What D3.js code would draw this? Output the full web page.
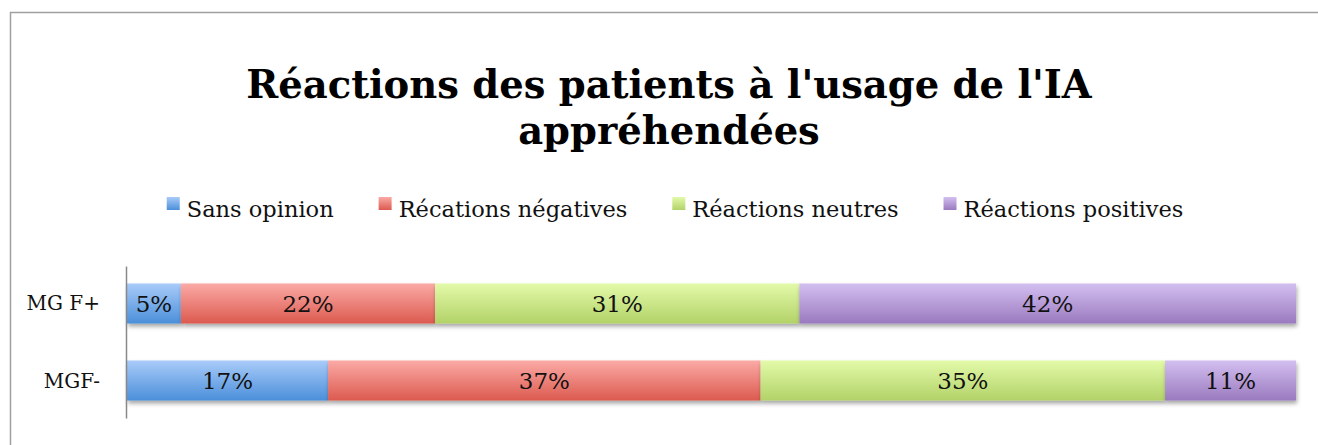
<!DOCTYPE html>
<html>
<head>
<meta charset="utf-8">
<title>Réactions des patients</title>
<script src="https://cdn.jsdelivr.net/npm/d3@7"></script>
<style>
body { margin: 0; background: #fff; }
svg text { font-family: "DejaVu Serif", serif; fill: #111; }
</style>
</head>
<body>
<script>
// data
var categories = ["MG F+", "MGF-"];
var seriesNames = ["Sans opinion", "Récations négatives", "Réactions neutres", "Réactions positives"];
var sansOpinion = [4.6, 17.2];
var negatives   = [21.7, 37.0];
var neutres     = [31.1, 34.6];
var positives   = [42.4, 11.2];
var titleLines = ["Réactions des patients à l'usage de l'IA", "appréhendées"];

var colors = [
  ["#a9cbf9", "#4b8fda"],
  ["#fbaaa6", "#dc5a4f"],
  ["#e3faa9", "#b2d268"],
  ["#d3bff0", "#9a7abf"]
];

var width = 1318, height = 445;
var svg = d3.select("body").append("svg")
  .attr("width", width).attr("height", height);

var defs = svg.append("defs");
colors.forEach(function(c, i){
  var g = defs.append("linearGradient").attr("id", "grad" + i)
    .attr("x1", 0).attr("y1", 0).attr("x2", 0).attr("y2", 1);
  g.append("stop").attr("offset", "0%").attr("stop-color", c[0]);
  g.append("stop").attr("offset", "100%").attr("stop-color", c[1]);
});
var f = defs.append("filter").attr("id", "shadow")
  .attr("x", "-5%").attr("y", "-20%").attr("width", "110%").attr("height", "160%");
f.append("feDropShadow").attr("dx", 1).attr("dy", 3).attr("stdDeviation", 2)
  .attr("flood-color", "#000").attr("flood-opacity", 0.35);

// chart frame
svg.append("rect")
  .attr("x", 10.5).attr("y", 12.5)
  .attr("width", width + 20).attr("height", height + 20)
  .attr("fill", "none").attr("stroke", "#a0a0a0").attr("stroke-width", 1.5);

// title
svg.append("g").selectAll("text")
  .data(titleLines).enter().append("text")
  .attr("x", 669).attr("y", function(d, i){ return 98 + i * 46; })
  .attr("text-anchor", "middle")
  .style("font-size", "38.5px").style("font-weight", "bold")
  .style("fill", "#000")
  .text(function(d){ return d; });

// stacked data, each row normalised to 100%
var rows = categories.map(function(c, i){
  return { cat: c, s0: sansOpinion[i], s1: negatives[i], s2: neutres[i], s3: positives[i] };
});
var keys = ["s0", "s1", "s2", "s3"];
var stacked = d3.stack().keys(keys).offset(d3.stackOffsetExpand)(rows);

var x = d3.scaleLinear().domain([0, 1]).range([127, 1296]);
var y = d3.scaleBand().domain(categories).range([266, 418])
  .paddingInner(0.48).paddingOuter(0.227);

var layer = svg.append("g").selectAll("g.layer")
  .data(stacked).enter().append("g")
  .attr("class", "layer");

layer.selectAll("rect")
  .data(function(d){ return d.map(function(p){ return { p: p, k: d.index }; }); })
  .enter().append("rect")
  .attr("x", function(d){ return x(d.p[0]); })
  .attr("y", function(d){ return y(d.p.data.cat); })
  .attr("width", function(d){ return x(d.p[1]) - x(d.p[0]); })
  .attr("height", y.bandwidth())
  .attr("fill", function(d){ return "url(#grad" + d.k + ")"; })
  .attr("filter", "url(#shadow)");

var pct = d3.format(".0%");
layer.selectAll("text")
  .data(function(d){ return d; })
  .enter().append("text")
  .attr("x", function(d){ return (x(d[0]) + x(d[1])) / 2; })
  .attr("y", function(d){ return y(d.data.cat) + y.bandwidth() / 2 + 8.5; })
  .attr("text-anchor", "middle")
  .style("font-size", "23px")
  .text(function(d){ return pct(d[1] - d[0]); });

// vertical axis
var yAxis = svg.append("g").attr("transform", "translate(126,0)")
  .call(d3.axisLeft(y).tickSize(0).tickPadding(26));
yAxis.select(".domain").attr("stroke", "#888").attr("stroke-width", 1.5);
yAxis.selectAll(".tick text")
  .style("font-size", "20px").style("font-family", "DejaVu Serif, serif")
  .attr("fill", "#111").attr("dy", "0.35em");

// legend
var legend = svg.append("g").attr("class", "legend");
var items = legend.selectAll("g").data(seriesNames).enter().append("g");
items.append("rect")
  .attr("y", 197).attr("width", 13).attr("height", 13)
  .attr("fill", function(d, i){ return "url(#grad" + i + ")"; });
items.append("text")
  .attr("x", 20).attr("y", 217)
  .style("font-size", "22.5px")
  .text(function(d){ return d; });
var pos = 0, offs = [];
items.each(function(){
  offs.push(pos);
  pos += 20 + d3.select(this).select("text").node().getComputedTextLength() + 45;
});
var totalW = pos - 45;
items.attr("transform", function(d, i){ return "translate(" + (675 - totalW / 2 + offs[i]) + ",0)"; });
</script>
</body>
</html>
